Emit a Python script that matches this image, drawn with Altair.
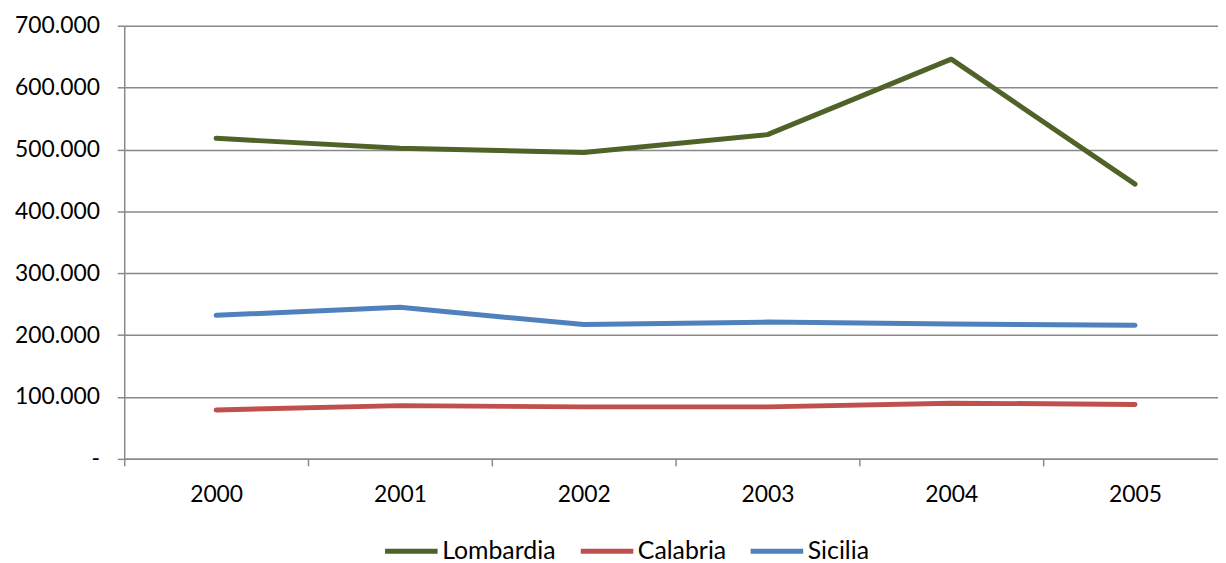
import altair as alt
import pandas as pd

years = ["2000", "2001", "2002", "2003", "2004", "2005"]
lombardia = [518000, 502000, 495000, 524000, 646000, 444000]
calabria = [79000, 86000, 84000, 84000, 90000, 88000]
sicilia = [232000, 245000, 217000, 221000, 218000, 216000]
regions = ["Lombardia", "Calabria", "Sicilia"]
colors = ["#4F6228", "#C0504D", "#4F81BD"]

rows = []
for name, vals in zip(regions, [lombardia, calabria, sicilia]):
    for y, v in zip(years, vals):
        rows.append({"Anno": y, "Regione": name, "Valore": v})
df = pd.DataFrame(rows)

FONT = "Lato"
FS = 23

chart = alt.Chart(df).mark_line(strokeWidth=5, strokeCap="round", strokeJoin="round").encode(
    x=alt.X("Anno:N", sort=years, title=None,
            scale=alt.Scale(range=[0, 1110], paddingInner=0, paddingOuter=0),
            axis=alt.Axis(labelAngle=0, tickBand="extent", domainColor="#898989", tickColor="#898989",
                          tickSize=7, labelPadding=18, labelFontSize=FS, labelFont=FONT,
                          labelColor="#000000", domainWidth=1.5, tickWidth=1.5)),
    y=alt.Y("Valore:Q", title=None,
            scale=alt.Scale(domain=[0, 700000], nice=False),
            axis=alt.Axis(values=[0, 100000, 200000, 300000, 400000, 500000, 600000, 700000],
                          labelExpr="datum.value == 0 ? '-' : format(datum.value / 1000, 'd') + '.000'",
                          gridColor="#898989", gridWidth=1.5, domainColor="#898989", domainWidth=1.5,
                          tickColor="#898989", tickWidth=1.5, tickSize=7, labelPadding=18,
                          labelFontSize=FS, labelFont=FONT, labelColor="#000000")),
    color=alt.Color("Regione:N", scale=alt.Scale(domain=regions, range=colors),
                    legend=alt.Legend(title=None, orient="none", legendX=260, legendY=500,
                                      direction="horizontal", symbolType="stroke", symbolSize=2800,
                                      symbolStrokeWidth=5, labelFontSize=25, labelFont=FONT,
                                      labelColor="#000000", labelOffset=2, columnPadding=14)),
).properties(
    width=1101, height=436,
    autosize=alt.AutoSizeParams(type="none"),
    padding={"left": 117, "top": 16, "right": 0, "bottom": 103},
).configure_view(stroke=None)

chart.save("out.html", embed_options={"renderer": "svg", "actions": False})
